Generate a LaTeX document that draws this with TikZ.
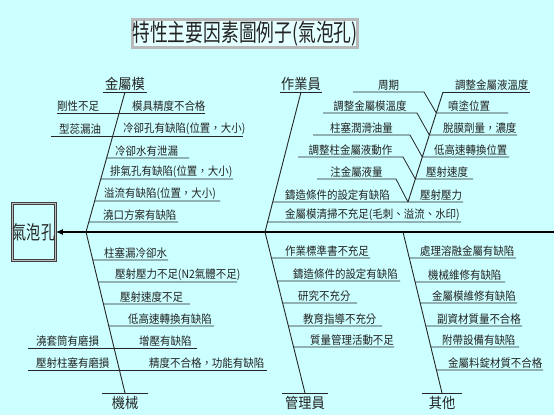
\documentclass[tikz,border=0pt]{standalone}
\usepackage{fontspec}
\newfontfamily\cjk[FakeStretch=0.91]{Noto Sans CJK TC}
\newfontfamily\cjknarrow[FakeStretch=0.74]{Noto Sans CJK TC}
\usetikzlibrary{arrows.meta,calc}
\definecolor{bgcyan}{RGB}{204,255,255}
\definecolor{titlefill}{RGB}{228,255,255}
\definecolor{ink}{RGB}{35,35,35}

\begin{document}
\begin{tikzpicture}[
  x=1pt, y=-1pt,
  cause/.style={font=\cjk\fontsize{11.5}{12}\selectfont, text=ink, inner xsep=0pt, inner ysep=1pt, anchor=south west},
  cat/.style={font=\cjk\fontsize{14.5}{15}\selectfont, text=ink, inner sep=1pt},
  bone/.style={draw=black!85, line width=0.9pt},
  twig/.style={draw=black!85, line width=0.8pt},
  spine/.style={draw=black, line width=1.5pt, -{Latex[length=7pt,width=6pt]}},
  titlebox/.style={draw=black!70, double=gray!55, double distance=2.4pt, line width=0.7pt, fill=titlefill, minimum width=210pt, minimum height=28pt, inner sep=0pt, font=\cjknarrow\fontsize{24}{24}\selectfont, text=ink},
  effectbox/.style={draw=black!75, double=gray!50, double distance=1.2pt, line width=0.6pt, minimum width=43pt, minimum height=57pt, inner sep=0pt, font=\cjknarrow\fontsize{19}{19}\selectfont, text=ink}
]
\path[use as bounding box, fill=bgcyan] (0,0) rectangle (554,415);

% title and effect
\node[titlebox] (title) at (245,33.5) {特性主要因素圖例子(氣泡孔)};
\node[effectbox] (effect) at (34,232) {氣泡孔};
\coordinate (tail) at (554,232);
\draw[spine] (tail) -- (effect.east);

% bone feet on the spine
\coordinate (lfoot) at (86,232);
\coordinate (mfoot) at (265,232);
\coordinate (rfoot) at (403,232);

% category labels
\node[cat, anchor=south, minimum width=44pt] (jm) at (125,92) {金屬模};
\node[cat, anchor=south, minimum width=36pt] (zy) at (301,92) {作業員};
\node[cat, anchor=north, minimum width=45pt, inner ysep=3pt] (jx) at (125,393) {機械};
\node[cat, anchor=north, minimum width=45pt, inner ysep=3pt] (gl) at (305,393) {管理員};
\node[cat, anchor=north, minimum width=40pt, inner ysep=3pt] (qt) at (442,393) {其他};
\draw[twig] (jm.south west) -- (jm.south east);
\draw[twig] (zy.south west) -- (zy.south east);
\draw[twig] (jx.north west) -- (jx.north east);
\draw[twig] (gl.north west) -- (gl.north east);
\draw[twig] (qt.north west) -- (qt.north east);

% main bones
\draw[bone] (jm.south) -- (lfoot);
\draw[bone] (zy.south) -- (mfoot);
\draw[bone] (lfoot) -- (jx.north);
\draw[bone] (mfoot) -- (gl.north);
\draw[bone] (rfoot) -- (qt.north);

% 金屬模
\coordinate (jmA) at (57,113);  \coordinate (jmB) at (205,113);
\coordinate (jmC) at (51,136);  \coordinate (jmD) at (243,136);
\draw[twig] (jmA) -- (jmB);
\draw[twig] (jmC) -- (jmD);
\node[cause] (jmL1) at (57,113) {剛性不足};
\node[cause] (jmR1) at (132,113) {模具精度不合格};
\node[cause] (jmL2) at (59,136) {型蕊漏油};
\node[cause] (jmR2) at (123,136) {冷卻孔有缺陷(位置，大小)};
\foreach \y/\xe/\xt/\txt [count=\i] in {158/189/115/冷卻水有泄漏, 179/233/110/{排氣孔有缺陷(位置，大小)}, 201/220/104/{溢流有缺陷(位置，大小)}, 222/178/103/澆口方案有缺陷}{
  \coordinate (jm\i) at (\xe,\y);
  \draw[twig] ($(jm.south)!{(\y-92)/140}!(lfoot)$) -- (jm\i);
  \node[cause] (jmt\i) at (\xt,\y) {\txt};
}

% 機械
\coordinate (jxA) at (28,348);  \coordinate (jxB) at (197,348);
\coordinate (jxC) at (28,370);  \coordinate (jxD) at (267,370);
\draw[twig] (jxA) -- (jxB);
\draw[twig] (jxC) -- (jxD);
\node[cause] (jxL1) at (36,348) {澆套筒有磨損};
\node[cause] (jxR1) at (139,348) {增壓有缺陷};
\node[cause] (jxL2) at (36,370) {壓射柱塞有磨損};
\node[cause] (jxR2) at (149,370) {精度不合格，功能有缺陷};
\foreach \y/\xe/\xt/\txt [count=\i] in {260/168/104/柱塞漏冷卻水, 282/237/115/{壓射壓力不足(N2氣體不足)}, 304/190/120/壓射速度不足, 326/214/128/低高速轉換有缺陷}{
  \coordinate (jx\i) at (\xe,\y);
  \draw[twig] ($(lfoot)!{(\y-232)/161}!(jx.north)$) -- (jx\i);
  \node[cause] (jxt\i) at (\xt,\y) {\txt};
}

% 作業員
\foreach \y/\xe/\xt/\txt [count=\i] in {202/463/285/鑄造條件的設定有缺陷, 222/461/285/{金屬模清掃不充足(毛刺、溢流、水印)}}{
  \coordinate (zy\i) at (\xe,\y);
  \draw[twig] ($(zy.south)!{(\y-92)/140}!(mfoot)$) -- (zy\i);
  \node[cause] (zyt\i) at (\xt,\y) {\txt};
}

% 鑄造條件的設定 sub-bone
\coordinate (ctop) at (443,92);
\coordinate (cfoot) at (408,202);
\coordinate (cend) at (530,92);
\draw[bone] (ctop) -- (cfoot);
\draw[twig] (ctop) -- (cend);
\node[cause] (cr0) at (455,92) {調整金屬液溫度};
\node[cause] (cr5) at (420,202) {壓射壓力};
\foreach \y/\xe/\xt/\txt [count=\i] in {113/508/448/噴塗位置, 135/517/443/{脫膜劑量，濃度}, 157/509/434/低高速轉換位置, 179/473/426/壓射速度}{
  \coordinate (cr\i e) at (\xe,\y);
  \draw[twig] ($(ctop)!{(\y-92)/110}!(cfoot)$) -- (cr\i e);
  \node[cause] (cr\i) at (\xt,\y) {\txt};
}
\foreach \y/\yn/\xs/\xb/\txt [count=\i] in {92/113/353/424/周期, 113/135/323/417/調整金屬模溫度, 135/157/313/410/柱塞潤滑油量, 157/179/298/403/調整柱金屬液動作, 179/202/317/396/注金屬液量}{
  \coordinate (cl\i s) at (\xs,\y);
  \coordinate (cl\i b) at (\xb,\y);
  \draw[twig] (cl\i s) -- (cl\i b) -- ($(ctop)!{(\yn-92)/110}!(cfoot)$);
  \node[cause, anchor=south] (cl\i) at ($(cl\i s)!0.5!(cl\i b)$) {\txt};
}

% 管理員
\foreach \y/\xe/\xt/\txt [count=\i] in {258/370/285/作業標準書不充足, 281/400/293/鑄造條件的設定有缺陷, 303/357/298/研究不充分, 326/382/303/教育指導不充分, 347/394/310/質量管理活動不足}{
  \coordinate (gl\i) at (\xe,\y);
  \draw[twig] ($(mfoot)!{(\y-232)/161}!(gl.north)$) -- (gl\i);
  \node[cause] (glt\i) at (\xt,\y) {\txt};
}

% 其他
\foreach \y/\xe/\xt/\txt [count=\i] in {258/516/420/處理溶融金屬有缺陷, 282/505/428/機械維修有缺陷, 303/517/432/金屬模維修有缺陷, 326/522/437/副資材質量不合格, 347/519/442/附帶設備有缺陷, 370/543/448/金屬料錠材質不合格}{
  \coordinate (qt\i) at (\xe,\y);
  \draw[twig] ($(rfoot)!{(\y-232)/161}!(qt.north)$) -- (qt\i);
  \node[cause] (qtt\i) at (\xt,\y) {\txt};
}
\end{tikzpicture}
\end{document}
